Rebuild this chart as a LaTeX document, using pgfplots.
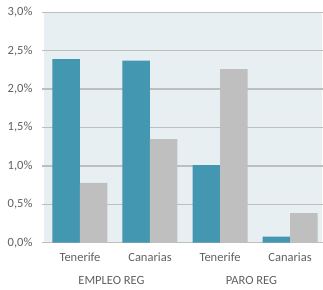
\documentclass[border=0pt]{standalone}
\usepackage{pgfplots}
\pgfplotsset{compat=1.18}
\usepackage{fontspec}
\setmainfont{Carlito}
\definecolor{teal1}{HTML}{4397B0}
\definecolor{gray1}{HTML}{BFBFBF}
\definecolor{bgcol}{HTML}{E8EFF2}
\definecolor{gridc}{HTML}{BEBEBE}
\definecolor{txt}{HTML}{606060}
\begin{document}
\begin{tikzpicture}
\begin{axis}[
  scale only axis,
  width=278pt, height=230.4pt,
  xmin=-0.514, xmax=3.457,
  ymin=0, ymax=3.0,
  axis background/.style={fill=bgcol},
  axis line style={draw=none},
  ymajorgrids,
  grid style={gridc, line width=1.3pt},
  ytick={0,0.5,1,1.5,2,2.5,3},
  yticklabels={{0,0\%},{0,5\%},{1,0\%},{1,5\%},{2,0\%},{2,5\%},{3,0\%}},
  xtick={0,1,2,3},
  xticklabels={Tenerife,Canarias,Tenerife,Canarias},
  x tick style={draw=none},
  y tick style={gridc, line width=1.3pt},
  major tick length=2pt,
  tick align=outside,
  ticklabel style={font=\fontsize{12.5}{14}\selectfont, text=txt},
  yticklabel style={xshift=-6pt},
  xticklabel style={yshift=-5pt},
  ybar, bar width=27.5pt,
  clip=false,
]
\addplot[fill=teal1, draw=none, bar shift=-13.75pt] coordinates {(0,2.39) (1,2.37) (2,1.01) (3,0.08)};
\addplot[fill=gray1, draw=none, bar shift=13.75pt] coordinates {(0,0.78) (1,1.35) (2,2.26) (3,0.385)};
\node[font=\fontsize{12.5}{14}\selectfont, text=txt] at (axis cs:0.45,0) [yshift=-37.5pt] {EMPLEO REG};
\node[font=\fontsize{12.5}{14}\selectfont, text=txt] at (axis cs:2.45,0) [yshift=-37.5pt] {PARO REG};
\end{axis}
\pgfresetboundingbox
\path[use as bounding box] (-44pt,-46.3pt) rectangle (279pt,242.7pt);
\end{tikzpicture}
\end{document}
